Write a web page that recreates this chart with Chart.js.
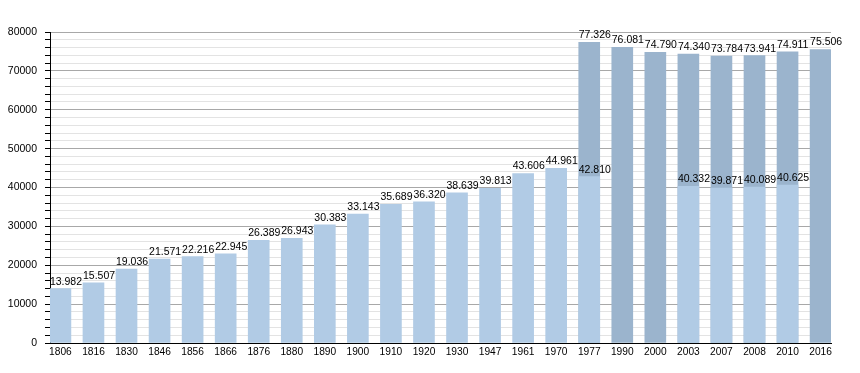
<!DOCTYPE html>
<html>
<head>
<meta charset="utf-8">
<script src="https://cdn.jsdelivr.net/npm/chart.js@4/dist/chart.umd.min.js"></script>
<style>
html,body{margin:0;padding:0;background:#fff;}
#wrap{width:860px;height:373px;}
</style>
</head>
<body>
<div id="wrap"><canvas id="c" width="860" height="373"></canvas></div>
<script>
const years = ["1806","1816","1830","1846","1856","1866","1876","1880","1890","1900","1910","1920","1930","1947","1961","1970","1977","1990","2000","2003","2007","2008","2010","2016"];
const populationLight = [13982,15507,19036,21571,22216,22945,26389,26943,30383,33143,35689,36320,38639,39813,43606,44961,42810,null,null,40332,39871,40089,40625,null];
const populationDark = [null,null,null,null,null,null,null,null,null,null,null,null,null,null,null,null,77326,76081,74790,74340,73784,73941,74911,75506];
const yTicks = [0,10000,20000,30000,40000,50000,60000,70000,80000];

function fmt(v){
  const s = String(v);
  return s.replace(/\B(?=(\d{3})+(?!\d))/g, '.');
}
function toPoints(arr){
  return arr.map((v,i)=>({x:i,y:v}));
}

const labelPlugin = {
  id:'vlabels',
  afterDatasetsDraw(chart){
    const ctx = chart.ctx;
    ctx.save();
    ctx.font = '10.5px "Liberation Sans", Arial, sans-serif';
    ctx.fillStyle = '#000';
    ctx.textAlign = 'left';
    ctx.textBaseline = 'alphabetic';
    chart.data.datasets.forEach((ds,di)=>{
      const meta = chart.getDatasetMeta(di);
      meta.data.forEach((el,i)=>{
        const v = ds.data[i].y;
        if(v==null) return;
        ctx.fillText(fmt(v), el.x - el.width/2, el.y - 4);
      });
    });
    ctx.restore();
  }
};

new Chart(document.getElementById('c'), {
  type:'bar',
  data:{
    datasets:[
      {data: toPoints(populationLight), backgroundColor:'#b1cbe5', barThickness:21, grouped:false, order:0},
      {data: toPoints(populationDark), backgroundColor:'#9bb4cd', barThickness:21, grouped:false, order:1}
    ]
  },
  options:{
    responsive:false,
    animation:false,
    layout:{padding:{top:32,right:29,left:0,bottom:0}},
    plugins:{legend:{display:false},tooltip:{enabled:false}},
    scales:{
      x:{
        type:'linear',
        min:-0.315,
        max:23.315,
        offset:false,
        grid:{display:false, drawTicks:false},
        border:{display:true,color:'#000',width:1},
        ticks:{
          stepSize:1,
          includeBounds:false,
          autoSkip:false,
          maxRotation:0,
          color:'#000',
          padding:3,
          font:{family:'"Liberation Sans", Arial, sans-serif',size:10.2},
          callback:(v)=>Number.isInteger(v) && years[v] ? years[v] : ''
        },
        afterFit(s){ s.height = 30; }
      },
      y:{
        min:0,
        max:80000,
        grid:{
          color:(c)=> (c.tick && c.tick.value % 10000 === 0) ? '#a8a8a8' : '#e3e3e3',
          tickColor:'#000',
          tickLength:5,
          drawTicks:true
        },
        border:{display:true,color:'#000',width:1},
        ticks:{
          stepSize:2000,
          color:'#000',
          padding:8,
          autoSkip:false,
          font:{family:'"Liberation Sans", Arial, sans-serif',size:10.5},
          callback:(v)=> yTicks.includes(v) ? String(v) : ''
        },
        afterFit(s){ s.width = 50; }
      }
    }
  },
  plugins:[labelPlugin]
});
</script>
</body>
</html>
